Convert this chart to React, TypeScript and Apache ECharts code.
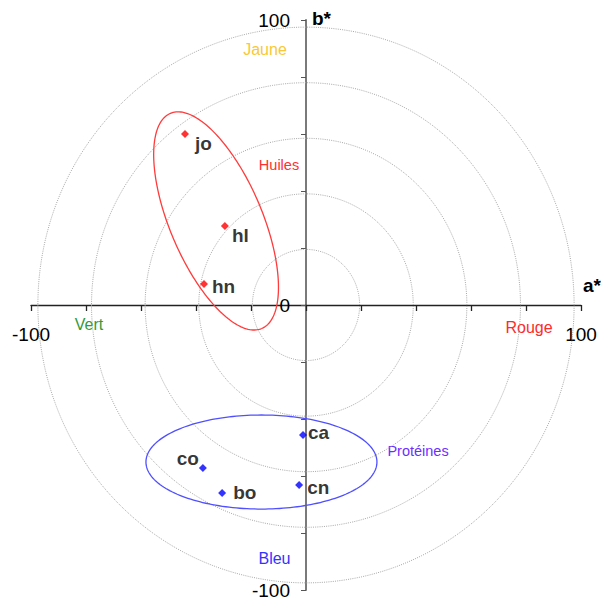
import React, { useEffect, useRef } from "react";
import * as echarts from "echarts";

// Samples (CIELab a*, b*)
const oilNames = ["jo", "hl", "hn"];
const oilA = [-44.0, -29.5, -37.1];
const oilB = [60.0, 27.7, 7.4];

const proteinNames = ["co", "bo", "ca", "cn"];
const proteinA = [-37.5, -30.5, -1.1, -2.5];
const proteinB = [-57.2, -66.0, -45.6, -63.2];

// Group ellipses: centre (a*, b*), semi-axes (a* units), tilt of major axis (deg from vertical)
const groupNames = ["Huiles", "Protéines"];
const groupCenterA = [-32.7, -16.2];
const groupCenterB = [29.5, -55.1];
const groupMajor = [42.5, 42.0];
const groupMinor = [16.8, 17.1];
const groupTilt = [23, 90];

// Concentric chroma circles
const ringRadii = [19.5, 39, 58.5, 78, 97.5];

// Axis
const axisMin = -100;
const axisMax = 100;
const axisStep = 20;
const xLabelValues = [-100, 100];
const yLabelValues = [-100, 0, 100];

const FONT = "'Liberation Sans', Arial, sans-serif";

const GRID = { left: 31, right: 20, top: 20, bottom: 11 };
const W = 601;
const H = 601;

export default function App() {
  const ref = useRef<HTMLDivElement | null>(null);

  useEffect(() => {
    if (!ref.current) return;
    const chart = echarts.init(ref.current, undefined, { renderer: "svg" });

    const gridW = W - GRID.left - GRID.right;
    const gridH = H - GRID.top - GRID.bottom;
    // move axes to the origin (value 0 lies at the middle of the range)
    const xOffset = -gridH * ((0 - axisMin) / (axisMax - axisMin));
    const yOffset = -gridW * ((0 - axisMin) / (axisMax - axisMin));

    const labelLayout: Record<string, { pos: string; dist: number; dy: number }> = {
      jo: { pos: "right", dist: 6, dy: 9.4 },
      hl: { pos: "right", dist: 3, dy: 9.4 },
      hn: { pos: "right", dist: 4, dy: 2.4 },
      co: { pos: "left", dist: 0, dy: -9.6 },
      bo: { pos: "right", dist: 7, dy: -0.6 },
      ca: { pos: "right", dist: 1, dy: -2.6 },
      cn: { pos: "right", dist: 4, dy: 2.4 },
    };

    const makePoints = (names: string[], a: number[], b: number[]) =>
      names.map((n, i) => {
        const l = labelLayout[n];
        return {
          name: n,
          value: [a[i], b[i]],
          label: { position: l.pos, distance: l.dist, offset: [0, l.dy] },
        };
      });

    const ellipseColors = ["#ff3b3b", "#5050ff"];

    const option: any = {
      animation: false,
      backgroundColor: "#ffffff",
      grid: { ...GRID, containLabel: false, outerBoundsMode: "none" },
      xAxis: {
        type: "value",
        position: "bottom",
        offset: xOffset,
        min: axisMin,
        max: axisMax,
        interval: axisStep,
        name: "a*",
        nameLocation: "end",
        nameGap: 2,
        nameTextStyle: {
          fontFamily: FONT,
          fontSize: 19,
          fontWeight: "bold",
          color: "#000",
          align: "left",
          verticalAlign: "bottom",
          padding: [0, 0, 10, 0],
        },
        axisLine: { show: true, onZero: false, lineStyle: { color: "#222", width: 1.3 } },
        axisTick: { show: true, length: 6, lineStyle: { color: "#222", width: 1.3 } },
        axisLabel: {
          show: true,
          margin: 20,
          hideOverlap: false,
          fontFamily: FONT,
          fontSize: 19,
          color: "#000",
          formatter: (v: number) => (xLabelValues.includes(v) ? String(v) : ""),
        },
        splitLine: { show: false },
      },
      yAxis: {
        type: "value",
        position: "left",
        offset: yOffset,
        min: axisMin,
        max: axisMax,
        interval: axisStep,
        name: "b*",
        nameLocation: "end",
        nameGap: 2,
        nameTextStyle: {
          fontFamily: FONT,
          fontSize: 19,
          fontWeight: "bold",
          color: "#000",
          align: "left",
          verticalAlign: "middle",
          padding: [0, 0, 0, 6],
        },
        axisLine: { show: true, onZero: false, lineStyle: { color: "#7a7a7a", width: 2 } },
        axisTick: { show: true, length: 5, lineStyle: { color: "#555", width: 1 } },
        axisLabel: {
          show: true,
          margin: 16,
          hideOverlap: false,
          fontFamily: FONT,
          fontSize: 19,
          color: "#000",
          formatter: (v: number) => (yLabelValues.includes(v) ? String(v) : ""),
        },
        splitLine: { show: false },
      },
      series: [
        {
          type: "custom",
          name: "rings",
          silent: true,
          clip: false,
          z: 1,
          data: ringRadii.map((r) => [r, 0]),
          renderItem: (params: any, api: any) => {
            const r = api.value(0);
            const pts: number[][] = [];
            const N = 240;
            for (let i = 0; i <= N; i++) {
              const t = (i / N) * Math.PI * 2;
              pts.push(api.coord([r * Math.cos(t), r * Math.sin(t)]));
            }
            return {
              type: "polyline",
              shape: { points: pts },
              style: { fill: null, stroke: "#a8a8a8", lineWidth: 1, lineDash: [1, 1.2] },
            };
          },
        },
        {
          type: "custom",
          name: "groups",
          silent: true,
          clip: false,
          z: 3,
          data: groupNames.map((g, i) => [groupCenterA[i], groupCenterB[i], groupMajor[i], groupMinor[i], groupTilt[i]]),
          renderItem: (params: any, api: any) => {
            const c = api.coord([api.value(0), api.value(1)]);
            const s = api.size([1, 1]);
            const a = api.value(2) * s[0];
            const b = api.value(3) * s[0];
            const th = (api.value(4) * Math.PI) / 180;
            const d = [Math.sin(th), Math.cos(th)];
            const n = [Math.cos(th), -Math.sin(th)];
            const pts: number[][] = [];
            const N = 200;
            for (let i = 0; i <= N; i++) {
              const t = (i / N) * Math.PI * 2;
              const u = a * Math.sin(t);
              const w = b * Math.cos(t);
              pts.push([c[0] + u * d[0] + w * n[0], c[1] + u * d[1] + w * n[1]]);
            }
            return {
              type: "polyline",
              shape: { points: pts },
              style: { fill: null, stroke: ellipseColors[params.dataIndex], lineWidth: 1.3 },
            };
          },
        },
        {
          type: "scatter",
          name: "Huiles",
          z: 4,
          symbol: "diamond",
          symbolSize: 8,
          itemStyle: { color: "#ff0000" },
          label: {
            show: true,
            formatter: "{b}",
            fontFamily: FONT,
            fontSize: 19,
            fontWeight: "bold",
            color: "#000",
          },
          data: makePoints(oilNames, oilA, oilB),
        },
        {
          type: "scatter",
          name: "Protéines",
          z: 4,
          symbol: "diamond",
          symbolSize: 8,
          itemStyle: { color: "#0000ff" },
          label: {
            show: true,
            formatter: "{b}",
            fontFamily: FONT,
            fontSize: 19,
            fontWeight: "bold",
            color: "#000",
          },
          data: makePoints(proteinNames, proteinA, proteinB),
        },
      ],
      graphic: [
        { type: "text", x: 265, y: 49.5, style: { text: "Jaune", fill: "#f8c83a", fontFamily: FONT, fontSize: 16, align: "center", verticalAlign: "middle" } },
        { type: "text", x: 89, y: 324.5, style: { text: "Vert", fill: "#33993a", fontFamily: FONT, fontSize: 16, align: "center", verticalAlign: "middle" } },
        { type: "text", x: 529, y: 327.5, style: { text: "Rouge", fill: "#ff2a2a", fontFamily: FONT, fontSize: 16, align: "center", verticalAlign: "middle" } },
        { type: "text", x: 274.5, y: 558.5, style: { text: "Bleu", fill: "#3333ff", fontFamily: FONT, fontSize: 16, align: "center", verticalAlign: "middle" } },
        { type: "text", x: 279, y: 164.5, style: { text: groupNames[0], fill: "#ff3030", fontFamily: FONT, fontSize: 14.5, align: "center", verticalAlign: "middle" } },
        { type: "text", x: 418, y: 450.5, style: { text: groupNames[1], fill: "#6a30ff", fontFamily: FONT, fontSize: 14.5, align: "center", verticalAlign: "middle" } },
      ],
    };

    chart.setOption(option);
    return () => chart.dispose();
  }, []);

  return (
    <div
      ref={ref}
      style={{ position: "fixed", left: 0, top: 0, width: W, height: H, background: "#fff" }}
    />
  );
}
